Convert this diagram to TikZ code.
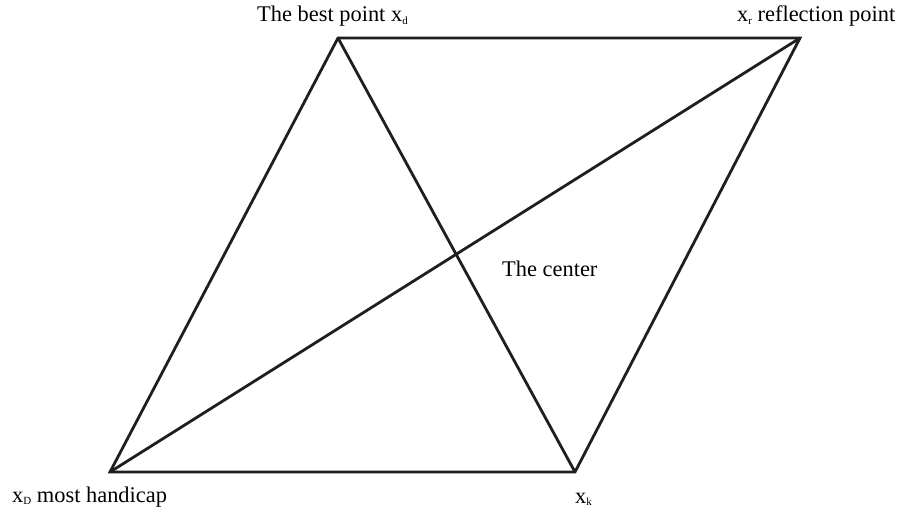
\documentclass[tikz,border=0pt]{standalone}
\usepackage{fontspec}
\setmainfont{Liberation Serif}
\newcommand{\mysub}[1]{\raisebox{-2.5bp}{\fontsize{11}{12}\selectfont #1}}
\tikzset{
  edge/.style={draw=black!88, line width=2.8bp, line join=miter},
  lbl/.style={inner sep=0pt, anchor=base west, font=\fontsize{22.5}{27}\selectfont},
  pt/.style={coordinate}
}
\begin{document}
\begin{tikzpicture}[x=1bp,y=-1bp]
\useasboundingbox[fill=white] (0,0) rectangle (907,512);
\coordinate (d) at (338,38);
\coordinate (r) at (800,38);
\coordinate (D) at (110,472);
\coordinate (k) at (575,472);
\draw[edge] (d) -- (r) -- (k) -- (D) -- cycle;
\draw[edge] (d) -- (k);
\draw[edge] (D) -- (r);
\node[lbl] (ld) at (257,22) {The best point x\mysub{d}};
\node[lbl] (lr) at (737,22) {x\mysub{r} reflection point};
\node[lbl] (lc) at (502,277) {The center};
\node[lbl] (lD) at (12,502) {x\mysub{D} most handicap};
\node[lbl] (lk) at (575,503) {x\mysub{k}};
\end{tikzpicture}
\end{document}
